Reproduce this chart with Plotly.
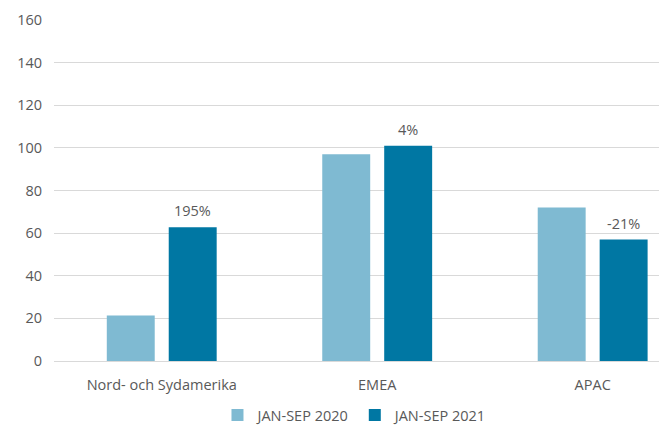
import plotly.graph_objects as go

categories = ["Nord- och Sydamerika", "EMEA", "APAC"]
values_2020 = [21.3, 97.0, 72.0]
values_2021 = [62.8, 101.0, 57.0]
growth_labels = ["195%", "4%", "-21%"]
series_names = ["JAN-SEP 2020", "JAN-SEP 2021"]
y_ticks = [0, 20, 40, 60, 80, 100, 120, 140, 160]

light = "#7FBAD2"
dark = "#0077A3"
txt = "#595959"
font_family = "'Open Sans', sans-serif"
fs = 14.5

fig = go.Figure()
fig.add_trace(go.Bar(x=categories, y=values_2020, name=series_names[0],
                     marker=dict(color=light, line=dict(width=0))))
fig.add_trace(go.Bar(x=categories, y=values_2021, name=series_names[1],
                     marker=dict(color=dark, line=dict(width=0))))

for c, v, lab in zip(categories, values_2021, growth_labels):
    fig.add_annotation(x=c, y=v, text=lab, showarrow=False, xref="x", yref="y",
                       xshift=31, yanchor="bottom", yshift=5,
                       font=dict(size=fs, color=txt, family=font_family))

# the page body adds an 8px margin, so the figure is sized to fit the 667x426 window
fig.update_layout(
    width=659, height=418,
    margin=dict(l=46, r=0, t=12, b=65, autoexpand=False),
    paper_bgcolor="white", plot_bgcolor="white",
    barmode="group", bargap=0.425, bargroupgap=0.226,
    font=dict(family=font_family, size=fs, color=txt),
    showlegend=True,
    legend=dict(orientation="h", x=0.491, xanchor="center", y=-54 / 341, yanchor="middle",
                font=dict(size=fs, color=txt), itemwidth=30, traceorder="normal"),
    xaxis=dict(range=[-0.5, 2.345], showgrid=False, showline=False, ticks="",
               automargin=False,
               tickfont=dict(size=fs, color=txt), ticklabelstandoff=13),
    yaxis=dict(range=[0, 160], tickvals=y_ticks, showgrid=True, gridcolor="#D9D9D9",
               gridwidth=1, zeroline=True, zerolinecolor="#D9D9D9", zerolinewidth=1,
               automargin=False,
               showline=False, ticks="", tickfont=dict(size=fs, color=txt),
               ticklabelstandoff=11),
)

fig.write_html("out.html")
